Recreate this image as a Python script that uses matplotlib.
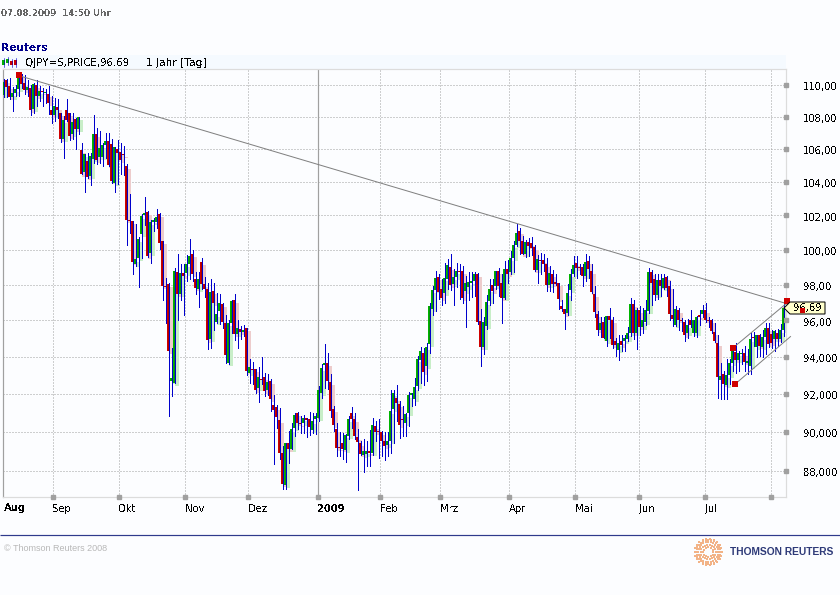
import matplotlib
matplotlib.use("Agg")
import matplotlib.pyplot as plt
from matplotlib.patches import Polygon, Rectangle
from matplotlib.transforms import offset_copy, blended_transform_factory, ScaledTranslation
from matplotlib.ticker import FixedLocator, FixedFormatter, NullLocator
import numpy as np

opens = [
109.39,110.33,109.91,109.25,109.5,109.75,110.7,110.12,109.66,109.83,
108.46,110.02,109.33,109.6,109.5,109.45,108.42,108.1,108.62,108.25,
106.63,108.42,108.25,106.9,107.87,107.21,105.96,104.61,105.25,104.36,
105.38,106.9,105.5,105.54,106.27,106.48,106.33,103.94,106.0,105.81,
105.71,104.96,101.7,101.68,99.17,99.52,100.94,102.02,102.19,99.81,
101.64,101.62,102.08,100.49,97.92,98.02,92.69,92.6,98.7,97.45,
98.66,98.66,99.17,99.75,98.31,97.77,99.27,98.02,97.73,94.99,
97.64,95.89,96.5,96.93,95.84,93.64,95.84,97.13,95.26,95.5,
95.35,95.57,93.14,93.32,93.32,92.29,92.78,92.89,92.23,92.69,
91.39,91.3,90.6,88.92,87.25,89.4,89.12,90.2,90.96,90.44,
90.47,90.7,90.65,90.12,90.68,90.7,92.02,93.53,93.68,92.64,
91.18,90.15,89.21,89.44,89.04,89.78,90.96,90.68,89.74,89.44,
88.8,88.84,89.0,88.92,90.3,90.05,90.0,89.52,89.3,89.52,
91.18,91.79,91.44,90.68,90.47,91.0,91.93,91.7,92.41,93.84,
94.22,93.5,94.67,96.63,97.7,98.46,97.73,97.54,98.34,99.03,
98.06,98.46,98.8,98.75,97.63,97.89,98.1,98.2,98.63,95.96,
94.54,95.66,97.1,97.96,97.92,98.78,98.08,97.26,98.88,98.69,
99.55,100.3,101.06,100.49,99.73,100.43,100.4,100.15,98.85,99.39,
99.39,99.2,97.96,98.63,98.13,98.11,96.82,96.65,96.4,97.68,
98.63,99.26,98.99,99.0,98.5,99.35,98.78,97.45,96.35,95.48,
95.88,94.85,96.25,96.02,94.85,94.36,94.85,94.85,94.98,95.3,
96.93,95.3,96.59,95.62,95.93,96.49,98.69,98.3,97.44,98.27,
97.83,98.44,97.92,96.3,95.75,96.59,96.04,95.89,95.27,96.02,
95.3,95.27,96.3,96.36,96.59,96.04,96.02,95.35,94.76,92.75,
93.05,92.48,93.0,93.64,94.25,93.8,94.13,94.22,93.68,93.5,
95.06,94.54,95.21,94.54,95.08,95.57,95.26,94.94,95.3,94.98,
95.44]
closes = [
110.22,109.87,109.25,109.5,109.75,110.54,110.08,109.7,109.87,108.42,
110.04,109.33,109.64,109.54,109.56,108.83,108.1,108.7,108.42,106.63,
107.79,107.79,106.83,107.67,107.21,108.0,104.5,105.71,104.3,105.59,
106.9,105.34,106.06,106.27,106.48,105.02,104.03,106.1,105.75,105.34,
105.63,101.75,101.66,99.27,99.46,100.64,101.96,102.17,99.62,101.64,
101.74,101.89,100.37,97.92,97.85,94.31,92.83,98.79,97.45,98.66,
98.47,99.17,99.62,98.6,97.79,98.31,98.02,97.73,94.9,97.6,
96.94,96.36,96.97,95.91,94.07,95.84,97.07,95.26,95.57,95.35,
95.48,93.24,93.44,93.26,92.18,92.89,92.72,92.14,92.62,91.75,
91.13,90.78,88.92,87.3,89.4,89.12,90.17,90.87,90.47,90.4,
90.7,90.61,90.26,90.56,90.82,92.23,93.41,93.68,92.68,91.09,
90.35,89.14,89.14,89.09,89.81,90.68,90.68,89.8,89.47,88.84,
89.02,89.02,88.92,90.36,89.98,90.0,89.52,89.26,89.52,91.11,
92.02,91.49,90.35,90.6,90.91,91.95,92.02,92.38,93.86,94.31,
93.17,94.5,96.82,97.7,98.4,97.58,97.22,98.36,99.1,97.98,
98.44,98.8,98.71,97.22,98.07,98.13,98.2,98.63,95.9,94.52,
95.88,97.03,97.77,97.64,98.78,97.9,97.26,98.88,98.59,99.55,
100.3,101.0,100.53,99.77,100.43,100.2,100.11,98.85,99.45,99.33,
99.16,97.98,98.68,98.02,98.06,97.17,96.63,96.36,97.5,98.59,
99.1,98.93,98.95,98.5,99.3,98.88,97.58,96.45,95.45,95.84,
95.03,96.25,96.02,94.62,94.62,94.76,94.62,95.03,95.3,96.93,
95.3,96.59,95.62,96.02,96.59,98.69,98.08,97.44,98.27,97.92,
98.4,97.83,96.36,96.06,96.62,96.02,95.98,95.21,95.75,95.75,
96.02,96.17,96.17,96.59,96.02,95.98,95.39,94.88,92.91,92.96,
92.55,93.0,93.64,94.31,93.82,94.18,94.22,93.71,93.77,94.98,
95.0,95.21,94.58,95.08,95.57,94.67,94.76,95.39,94.94,95.44,
96.69]
highs = [
110.39,110.37,110.43,109.87,110.02,110.83,110.7,110.64,110.33,110.02,
110.12,110.33,109.95,109.81,109.75,109.91,109.29,109.16,109.08,108.25,
108.04,109.12,108.25,108.25,107.94,108.0,106.38,105.71,105.75,105.75,
108.08,107.31,107.1,106.38,107.0,107.0,106.63,106.1,106.54,106.38,
106.17,105.1,103.25,101.68,101.51,100.73,102.11,103.1,102.25,101.74,
101.83,102.36,102.15,100.49,98.35,98.08,94.49,98.94,99.75,99.17,
99.17,99.69,100.6,100.0,98.7,98.7,99.5,98.46,98.12,98.31,
98.12,97.54,97.45,96.97,96.27,96.02,97.13,97.45,96.02,95.7,
95.75,95.57,93.86,93.71,93.32,93.44,93.98,93.1,93.05,92.81,
91.96,91.39,91.26,89.26,89.4,90.03,90.47,91.0,91.03,90.82,
90.86,90.74,91.03,90.96,91.0,92.41,93.59,94.67,94.18,93.05,
91.35,90.47,89.98,89.95,89.91,90.82,91.3,91.0,90.15,89.52,
89.61,89.52,90.09,90.74,90.56,90.65,90.03,89.98,89.98,92.23,
92.2,92.48,91.61,91.35,91.0,92.09,92.05,92.87,94.04,94.55,
94.49,94.76,96.97,97.93,98.75,98.6,98.3,99.26,99.45,99.73,
98.88,99.22,99.16,99.07,98.5,98.69,98.69,98.69,98.65,96.62,
96.2,97.39,98.3,98.34,98.78,98.97,98.59,99.36,99.41,99.92,
100.5,101.47,101.28,100.77,100.58,100.68,100.72,100.3,99.69,99.83,
99.77,99.54,99.07,98.82,98.59,98.11,97.16,96.65,98.02,98.88,
99.64,99.64,99.2,99.16,99.73,99.64,99.16,97.92,96.5,96.16,
96.16,96.25,96.68,96.2,95.03,95.21,95.21,95.21,95.62,97.25,
97.16,96.68,96.78,96.68,97.16,98.92,98.84,98.59,98.59,98.59,
98.59,98.5,98.2,97.73,96.78,96.68,96.11,96.02,96.06,96.59,
96.02,96.25,96.59,96.87,96.97,96.2,96.08,95.84,95.21,93.64,
93.23,93.86,93.86,94.49,94.76,94.31,94.4,94.58,94.4,95.3,
95.33,95.21,95.26,95.48,95.84,95.84,95.48,95.48,95.51,95.8,
96.97]
lows = [
109.25,109.25,109.08,108.35,109.29,109.33,109.81,109.45,109.29,108.1,
108.25,108.67,108.98,108.7,108.87,108.14,107.58,107.73,107.94,106.42,
105.46,107.73,106.58,106.63,106.02,106.9,104.46,103.42,104.25,103.84,
105.13,105.09,105.13,104.98,105.44,104.96,103.94,103.42,103.88,104.46,
104.4,100.3,100.98,98.6,99.08,97.87,99.5,101.45,99.56,99.23,
101.07,101.26,100.04,97.16,95.87,90.83,91.87,92.6,96.02,97.16,
96.3,98.2,98.31,98.2,97.45,96.73,97.73,97.3,94.4,94.45,
95.48,95.84,95.8,95.57,93.68,93.58,95.3,94.9,94.49,94.94,
95.12,93.0,92.56,92.5,92.02,91.55,92.5,91.87,91.96,91.1,
88.32,90.2,88.58,87.08,87.08,88.41,89.09,89.78,90.15,89.95,
89.95,89.71,89.86,89.95,89.91,90.56,91.79,92.32,92.27,90.79,
90.03,88.75,88.75,88.58,88.44,89.61,90.21,89.61,87.04,88.79,
87.93,88.24,88.24,88.79,89.52,88.66,88.75,88.55,88.75,88.92,
89.44,90.56,89.66,89.78,89.78,90.3,91.35,91.4,92.23,92.59,
92.45,92.68,94.22,96.3,96.5,97.2,96.87,96.97,97.73,97.7,
96.85,97.89,97.2,96.97,95.6,97.12,97.3,97.35,95.8,93.5,
94.13,95.5,96.87,96.97,97.73,97.35,95.86,97.2,98.1,98.59,
98.69,100.2,99.77,99.73,99.58,99.64,99.69,98.76,98.11,98.59,
98.78,97.64,97.64,97.6,98.0,96.63,96.5,95.53,96.3,97.13,
98.5,98.4,98.59,97.92,98.21,98.4,97.54,96.2,95.2,95.05,
95.03,94.58,95.03,94.49,94.04,93.82,94.31,94.31,94.85,95.12,
94.94,94.44,95.21,95.3,95.75,96.43,96.87,97.16,97.2,97.35,
97.73,97.35,96.02,95.7,95.66,95.48,95.39,94.85,95.03,95.62,
95.12,95.08,95.75,96.2,95.93,95.62,95.3,94.8,91.79,91.74,
91.7,91.7,92.55,93.23,93.14,93.23,93.59,93.23,93.05,93.05,
94.58,94.0,94.04,94.0,94.13,94.54,94.49,94.31,94.58,94.8,
95.12]

month_pos = [16.4, 38.4, 60.4, 81.4, 104.7, 125.4, 145.4, 168.4, 190.4, 211.8, 233.8, 255.8]
month_labels = ['Sep', 'Okt', 'Nov', 'Dez', '2009', 'Feb', 'Mrz', 'Apr', 'Mai', 'Jun', 'Jul', '']
price_ticks = [88, 90, 92, 94, 96, 98, 100, 102, 104, 106, 108, 110]
price_labels = ['88,000', '90,000', '92,000', '94,000', '96,00', '98,00', '100,00',
                '102,00', '104,00', '106,00', '108,00', '110,00']

trend_x = [5, 261]
trend_y = [110.6, 96.93]
chan_up_x = [243, 261]
chan_up_y = [94.46, 96.95]
chan_lo_x = [243.7, 262.3]
chan_lo_y = [92.5, 95.1]
marker_x = [5, 261, 243, 243.7]
marker_y = [110.64, 97.1, 94.46, 92.5]

BG = '#fcfdff'
W, H = 840, 595
plt.rcParams['font.family'] = 'DejaVu Sans'
plt.rcParams['text.antialiased'] = False
px = 72 / 100

fig = plt.figure(figsize=(8.4, 5.95), dpi=100, facecolor=BG)

ov0 = fig.add_axes([0, 0, 1, 1], zorder=0)
ov0.set_xlim(0, W); ov0.set_ylim(H, 0); ov0.axis('off')
ov0.add_patch(Rectangle((0, 55), 786, 14, fc='#f5faff', ec='none'))
ov0.plot([0, 840], [535, 535], color='#2f3a8c', lw=1.2 * px, solid_capstyle='butt')

ax = fig.add_axes([3 / W, (H - 497) / H, 783 / W, 428 / H], zorder=1)
ax.set_facecolor(BG)
ax.set_yscale('log')
ax.set_xlim(-0.2, 260.8)
ax.set_ylim(86.67, 111.02)

ax.yaxis.set_major_locator(FixedLocator(price_ticks))
ax.yaxis.set_major_formatter(FixedFormatter(price_labels))
ax.yaxis.set_minor_locator(NullLocator())
ax.yaxis.tick_right()
ax.tick_params(axis='y', length=0, pad=17 * px, labelsize=7.2, labelcolor='black')
ax.set_xticks(month_pos)
ax.set_xticklabels(month_labels, ha='left')
ax.tick_params(axis='x', length=0, pad=7 * px, labelsize=7.2, labelcolor='black')
for lab in ax.get_xticklabels():
    if lab.get_text() == '2009':
        lab.set_fontweight('bold')
for lab in ax.get_yticklabels():
    lab.set_transform(lab.get_transform() + ScaledTranslation(0, -1.5 / 100, fig.dpi_scale_trans))
ax.text(0.0, -0.0145, 'Aug', transform=ax.get_xaxis_transform(), fontweight='bold', fontsize=7.2,
        ha='left', va='top', color='black')

ax.grid(True, which='major', color='#a0a0a0', lw=1 * px, linestyle=(0, (1, 2)))
ax.set_axisbelow(True)
for s, c in (('left', '#a0a0a0'), ('top', '#dcdcdc'), ('right', '#dcdcdc'), ('bottom', '#dcdcdc')):
    ax.spines[s].set_color(c)
    ax.spines[s].set_linewidth(1.2 * px)
ax.axvline(month_pos[month_labels.index('2009')], color='#a0a0a0', lw=1.2 * px, zorder=1.5)

xb = np.arange(len(opens))
o, c, hi, lo = map(np.array, (opens, closes, highs, lows))
up = c >= o
bottoms = np.minimum(o, c)
heights = np.maximum(np.abs(c - o), 0.06)
tops = bottoms + heights
ghost = offset_copy(ax.transData, fig=fig, x=2.5, y=-3, units='dots')
ax.vlines(xb[up], bottoms[up], tops[up], color='#c8eec8', lw=2.4 * px, transform=ghost,
          zorder=2, antialiased=False)
ax.vlines(xb[~up], bottoms[~up], tops[~up], color='#edcccc', lw=2.4 * px, transform=ghost,
          zorder=2, antialiased=False)
bright = np.where(up, '#00b400', '#d00000')
dark = np.where(up, '#0a8f0a', '#a80000')
ax.vlines(xb, lo, hi, color='#0000cc', lw=1 * px, zorder=3, antialiased=False)
ax.bar(xb - 0.2, heights, 2 / 3, bottoms, color=bright, linewidth=0, antialiased=False, zorder=4)
ax.bar(xb, heights, 1 / 3, bottoms, color=dark, linewidth=0, antialiased=False, zorder=5)

for tx, ty in ((trend_x, trend_y), (chan_up_x, chan_up_y), (chan_lo_x, chan_lo_y)):
    ax.plot(tx, ty, color='#808080', lw=1.0 * px, zorder=6, clip_on=False)
ax.plot(marker_x, marker_y, ls='none', marker='s', ms=6 * px, mfc='#d00000', mew=0,
        zorder=7, clip_on=False)

bot = blended_transform_factory(ax.transData, ax.transAxes)
rgt = blended_transform_factory(ax.transAxes, ax.transData)
ax.plot(month_pos, [0] * len(month_pos), ls='none', marker='s', ms=3.5 * px, color='#a0a0a0',
        transform=bot, clip_on=False, zorder=3)
ax.plot([1] * len(price_ticks), price_ticks, ls='none', marker='s', ms=3.5 * px, color='#a0a0a0',
        transform=rgt, clip_on=False, zorder=3)

ov = fig.add_axes([0, 0, 1, 1], zorder=2)
ov.set_xlim(0, W); ov.set_ylim(H, 0); ov.axis('off'); ov.patch.set_alpha(0)
ov.text(1, 13.5, '07.08.2009  14:50 Uhr', fontsize=6.3, fontweight='bold', color='#666666', va='center')
ov.text(1, 48, 'Reuters', fontsize=7.6, fontweight='bold', color='#00008b', va='center')
ov.text(25, 62.5, 'QJPY=S,PRICE,96.69', fontsize=7.4, color='black', va='center')
ov.text(146, 62.5, '1 Jahr [Tag]', fontsize=7.7, color='black', va='center')
ov.text(4, 548.5, '© Thomson Reuters 2008', fontsize=6.45, color='#b8b8b8', va='center',
        family='Liberation Sans', antialiased=True)
ov.text(730, 552, 'THOMSON REUTERS', fontsize=7.4, fontweight='bold', color='#2e3a78', va='center',
        family='Liberation Sans', antialiased=True)

for cx, col, t, b in ((3.5, '#00b000', 60, 65), (7.5, '#00b000', 59, 63),
                      (11.5, '#c80000', 61, 65), (15.5, '#c80000', 60, 65)):
    ov.add_patch(Rectangle((cx - 1.5, t), 3, b - t, fc=col, ec='none'))
    ov.plot([cx, cx], [t - 2, b + 1.5], color='#0000cc', lw=0.6 * px, zorder=1)

ov.plot([784, 802], [308, 310], color='#808080', lw=1 * px)
ov.add_patch(Polygon([(784, 308), (790, 302), (825, 302), (825, 314), (790, 314)], closed=True,
                     fc='#ffffcc', ec='black', lw=1 * px, zorder=3))
ov.text(808, 308, '96,69', fontsize=7.2, color='black', ha='center', va='center', zorder=4)
ov.add_patch(Rectangle((799.5, 307.5), 5, 5, fc='#d00000', ec='none', zorder=5))

# Thomson Reuters logo: rings of small orange dots
for r, n, s in ((5, 12, 1.2), (7.5, 18, 1.4), (10, 24, 1.6), (12, 28, 1.6), (13.5, 22, 1.2)):
    th = np.linspace(0, 2 * np.pi, n, endpoint=False)
    ov.scatter(708.3 + r * np.cos(th), 552 + r * np.sin(th), s=s, marker='s', color='#f2b387',
               linewidths=0)

fig.savefig('out.png', dpi=100, facecolor=BG)
